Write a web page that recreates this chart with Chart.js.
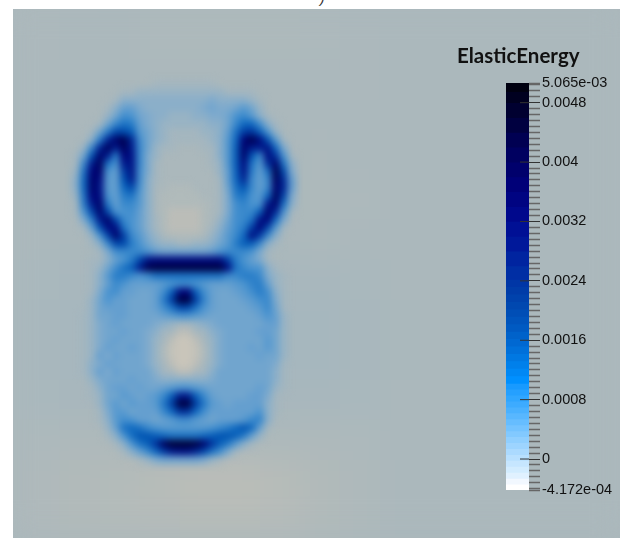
<!DOCTYPE html>
<html>
<head>
<meta charset="utf-8">
<title>ElasticEnergy</title>
<script src="https://cdn.jsdelivr.net/npm/chart.js@4"></script>
<style>
  html, body { margin: 0; padding: 0; background: #fff; overflow: hidden; }
  #panel { position: absolute; left: 13px; top: 9px; width: 607px; height: 529px; background: #abb8bc; overflow: hidden; }
  #farChart { position: absolute; left: -13px; top: -9px; filter: blur(16px); }
  #fieldChart { position: absolute; left: -13px; top: -9px; filter: blur(3.5px); }
  #legendChart { position: absolute; left: 0; top: 0; }
  #clipped { position: absolute; left: 320px; top: -10px; font: italic 14px "Liberation Sans"; color: #333; }
</style>
</head>
<body>
<span id="clipped">)</span>
<div id="panel">
  <canvas id="farChart" width="628" height="538"></canvas>
  <canvas id="fieldChart" width="628" height="538"></canvas>
</div>
<canvas id="legendChart" width="628" height="538"></canvas>
<script>
// all energies below are in units of 1e-4
const fieldCol0 = 9.5;
const fieldRow0 = 10.5;
const fieldRows = [
  [0,0,0,0,0,0,0,0,0,0,1,1,1,1,1,1,1,1,0,0,0,0,0,0,0,0,0,0],
  [0,0,0,0,0,0,1,1,2,2,2,2,2,2,2,2,2,2,2,1,1,1,1,0,0,0,0,0],
  [0,0,0,0,0,1,3,3,3,3,3,3,3,3,3,3,3,4,3,3,3,3,2,1,0,0,0,0],
  [0,0,0,0,1,3,6,6,4,3,3,3,3,3,3,3,4,5,4,4,5,7,5,2,0,0,0,0],
  [0,0,0,0,2,5,9,8,5,4,3,3,2,2,2,3,3,4,4,5,8,10,7,3,1,0,0,0],
  [0,0,0,1,5,10,14,12,6,4,3,2,2,2,2,2,2,3,3,5,10,16,16,9,3,1,0,0],
  [0,0,1,5,12,22,22,18,7,5,3,2,1,1,1,1,2,2,3,6,14,24,26,18,8,2,0,0],
  [0,0,3,12,28,38,42,28,9,5,3,2,1,1,1,1,1,2,3,7,16,36,42,34,20,7,1,0],
  [0,2,10,28,40,30,40,30,10,5,2,1,1,0,0,0,1,1,3,7,18,38,30,30,32,16,4,0],
  [1,5,20,38,30,12,36,32,10,4,2,0,0,0,0,0,0,1,3,7,18,38,20,10,34,26,8,1],
  [1,10,30,40,14,8,30,32,10,4,1,0,0,0,0,0,0,1,2,7,18,34,14,7,26,38,14,3],
  [2,14,36,38,8,6,24,32,9,4,1,0,0,0,0,0,0,0,2,6,17,32,12,6,14,42,22,4],
  [3,16,38,34,7,6,20,30,9,3,1,0,0,0,0,0,0,0,1,6,16,28,10,6,10,40,27,6],
  [3,16,38,32,7,6,16,22,8,3,0,0,-1,-1,-1,0,0,0,1,5,14,20,10,6,10,38,28,6],
  [2,14,36,34,8,6,12,14,7,3,0,-1,-1,-1,-1,-1,0,0,1,4,12,14,8,7,16,40,23,4],
  [1,12,30,38,12,6,10,10,7,3,0,-1,-1,-1,-1,-1,-1,0,1,4,9,11,8,8,30,38,15,3],
  [1,8,22,38,22,8,8,9,6,3,0,-1,-2,-2,-2,-2,-1,0,1,4,9,10,10,18,38,28,8,1],
  [0,4,12,30,38,22,10,8,6,3,1,-1,-2,-2,-2,-2,-1,0,2,5,9,10,14,32,36,16,4,0],
  [0,1,6,20,34,34,14,8,6,3,1,-1,-2,-2,-2,-2,-1,1,3,6,9,12,24,36,22,7,1,0],
  [0,0,2,8,22,38,24,10,7,4,2,0,-1,-1,-1,-1,0,2,4,7,10,16,34,24,10,3,0,0],
  [0,0,1,3,10,22,22,12,8,5,3,2,2,1,1,2,2,3,5,7,12,18,18,10,3,1,0,0],
  [0,0,0,1,4,9,10,10,10,8,6,5,5,5,5,5,5,6,8,10,10,10,8,4,1,0,0,0],
  [0,0,1,1,3,6,8,12,22,32,34,34,34,34,34,34,34,34,34,24,12,8,6,4,1,0,0,0],
  [0,0,1,2,5,9,14,18,30,42,44,44,44,44,44,44,44,44,44,34,14,10,8,8,3,1,0,0],
  [0,0,1,3,7,12,12,10,8,10,14,14,14,14,14,14,14,14,14,10,10,12,12,10,4,2,1,0],
  [0,0,1,3,6,10,8,6,6,6,6,7,8,9,9,8,7,6,6,6,7,8,11,12,6,2,1,0],
  [0,0,1,4,8,9,6,6,5,5,6,9,18,34,36,18,9,6,5,5,6,7,9,12,9,3,1,0],
  [0,0,2,5,8,6,6,5,5,5,6,12,24,44,44,24,11,6,5,5,5,6,7,9,10,4,1,0],
  [0,0,2,5,6,6,6,5,5,5,6,9,14,22,22,14,8,6,5,5,5,5,6,7,10,5,1,0],
  [0,1,2,5,5,6,6,5,5,5,5,6,7,8,8,7,6,5,5,5,5,5,5,6,8,6,2,0],
  [0,1,2,4,5,6,5,5,5,5,4,3,2,1,1,2,3,4,5,5,5,5,5,5,6,6,2,0],
  [0,1,2,4,5,5,6,5,5,4,3,1,0,-2,-2,0,1,3,4,5,5,5,5,6,6,5,2,0],
  [0,1,2,4,5,6,5,5,5,4,2,0,-2,-4,-4,-2,0,2,4,5,5,5,5,5,7,5,2,0],
  [0,1,2,4,6,5,5,6,5,4,2,-1,-3,-4,-4,-3,-1,2,4,5,5,5,6,5,7,5,2,0],
  [0,1,2,6,4,6,5,5,5,4,2,-1,-3,-4,-4,-3,-1,2,4,5,5,5,5,6,5,5,2,0],
  [0,1,3,4,6,5,5,5,5,4,2,0,-2,-4,-4,-2,0,2,4,5,5,5,5,5,5,4,1,0],
  [0,1,3,6,4,6,5,5,5,5,3,1,0,-2,-2,0,1,3,5,5,5,5,5,5,5,3,1,0],
  [0,0,2,4,5,5,5,6,5,5,4,3,3,3,3,3,3,4,5,5,5,5,5,5,5,3,1,0],
  [0,0,1,3,5,6,6,5,6,5,5,6,7,8,8,7,6,5,5,5,5,5,5,6,5,2,1,0],
  [0,0,1,2,5,5,7,6,5,6,7,10,18,30,30,18,10,6,5,5,5,5,6,6,4,1,0,0],
  [0,0,0,2,5,7,5,7,6,6,7,13,24,44,44,24,13,7,6,5,6,6,6,6,3,1,0,0],
  [0,0,0,1,4,7,7,5,6,6,6,10,16,26,26,16,9,6,6,6,6,6,6,8,3,1,0,0],
  [0,0,0,1,3,7,9,8,6,6,5,6,7,9,9,7,6,5,6,6,6,7,10,11,3,0,0,0],
  [0,0,0,0,2,6,14,16,14,10,8,7,7,7,7,7,7,8,10,12,16,20,16,6,1,0,0,0],
  [0,0,0,0,1,3,8,15,20,20,18,16,14,14,14,14,16,18,20,20,18,13,6,2,0,0,0,0],
  [0,0,0,0,0,1,3,8,14,18,26,40,46,46,46,44,38,26,18,13,7,3,1,0,0,0,0,0],
  [0,0,0,0,0,0,1,3,6,10,16,24,30,32,32,28,22,14,9,4,1,0,0,0,0,0,0,0],
  [0,0,0,0,0,0,0,0,1,2,4,5,5,5,5,5,4,2,1,0,0,0,0,0,0,0,0,0]
];
// coarse far field, one cell every 5 mesh units
const farStep = 5;
const farRows = [
  [0,-0.2,-0.1,0,-0.2,-0.2,-0.2,-0.2,-0.1,0,0,0,0,0,0,0,0],
  [0,-0.1,0,0,-0.2,-0.3,-0.3,-0.3,-0.2,-0.1,0,0,0,0,0,0,0],
  [0,0,0,0,0,0,0,0,0,-0.1,0,0,0,0,0,0,0],
  [0,0,0,0,0,0,0,0,0,0,0,0,0,0,0,0,0],
  [0,0,0,0,0,0,0,0,-0.2,0,0,0,0,0,0,0,0],
  [0,0,0,0,0,0,0,0,-0.3,-0.2,0,0,0,0,0,0,0],
  [0,0,0,0,0,0,0,0,-0.2,0,0,0,0,0,0,0,0],
  [0,0.2,0.3,0.3,0.3,0.3,0.3,0.3,0.3,0.2,0,0,0,0,0,0,0],
  [0,0.3,0.4,0.5,0.5,0.5,0.5,0.5,0.5,0.3,0.1,0,0,0,0,0,0],
  [0,0.3,0.4,0.5,0.5,0.5,0.5,0.5,0.5,0.3,0.1,0,0,0,0,0,0],
  [0,0.2,0.3,0.3,0.3,0.3,0.3,0.3,0.3,0.2,0,0,0,0,0,0,0],
  [0,-0.2,-0.4,-0.4,-0.3,-0.2,-0.2,-0.3,-0.4,-0.2,0,0,0,0,0,0,0],
  [0,-0.5,-0.8,-1,-1.5,-2,-2,-1.5,-0.8,-0.4,0,0,0,0,0,0,0],
  [0,-0.5,-0.8,-1,-1.2,-1.4,-1.4,-1.2,-0.8,-0.4,0,0,0,0,0,0,0],
  [0,-0.3,-0.5,-0.7,-0.8,-0.8,-0.8,-0.7,-0.5,-0.2,0,0,0,0,0,0,0]
];
const fieldStops = [-4, -2, 0, 2, 4, 8, 12, 16, 20, 24, 30, 36, 42, 50];
const fieldColors = [
  [201,197,186],[187,189,184],[171,184,188],[152,179,196],[126,170,205],[75,148,208],[40,125,200],
  [15,105,192],[0,84,178],[0,62,164],[0,28,140],[0,4,120],[0,0,80],[0,0,32]
];

const scaleMin = -4.172;
const scaleMax = 50.65;
const bandEdges = [
  -4.172,-3.4,-2.6,-1.8,-1,-0.2,0.6,1.4,2.2,3,3.8,4.6,5.4,6.2,7,7.8,8.6,9.4,10.2,
  11.2,12.2,13.2,14.2,15.2,16.2,17.2,18.2,19.2,20.2,21.2,22.2,23.2,24.2,
  26,28,30,32,34,36,38,40,42,44,46,48,49.5
];
const bandColors = [
  '#ffffff','#f2f8ff','#e0f1ff','#d2ecff','#c6e6ff','#b8e0ff','#abdaff','#9dd4ff','#90cfff','#82c9ff',
  '#74c3ff','#66bdff','#58b7ff','#4ab1ff','#3dabff','#30a6ff','#25a0ff','#189aff','#0090ff',
  '#0088f5','#0080eb','#0078e2','#0070da','#0068d2','#0062ca','#005ac2','#0054bc','#004eb6','#0048b0',
  '#0042ac','#003ca8','#0036a6','#002ea4',
  '#0024a0','#00189a','#001095','#00088c','#000482','#000078','#00006c','#000060','#000052','#000040',
  '#000030','#000020','#000010'
];
const majorTicks = [0, 8, 16, 24, 32, 40, 48];
const majorLabels = ['0', '0.0008', '0.0016', '0.0024', '0.0032', '0.004', '0.0048'];
const minorTicks = [
  -4, -3.2, -2.4, -1.6, -0.8, 0.8, 1.6, 2.4, 3.2, 4, 4.8, 5.6, 6.4, 7.2,
  8.8, 9.6, 10.4, 11.2, 12, 12.8, 13.6, 14.4, 15.2, 16.8, 17.6, 18.4, 19.2, 20, 20.8, 21.6, 22.4, 23.2,
  24.8, 25.6, 26.4, 27.2, 28, 28.8, 29.6, 30.4, 31.2, 32.8, 33.6, 34.4, 35.2, 36, 36.8, 37.6, 38.4, 39.2,
  40.8, 41.6, 42.4, 43.2, 44, 44.8, 45.6, 46.4, 47.2, 48.8, 49.6, 50.4
];

function fieldColor(v, fade) {
  let i = 0;
  while (i < fieldStops.length - 2 && v > fieldStops[i + 1]) i++;
  const t = Math.min(1, Math.max(0, (v - fieldStops[i]) / (fieldStops[i + 1] - fieldStops[i])));
  const a = fieldColors[i], b = fieldColors[i + 1];
  // near-zero cells stay see-through so the far field shows under them
  const alpha = fade ? Math.min(1, Math.abs(v) / 1.5) : 1;
  return `rgba(${a[0] + (b[0] - a[0]) * t},${a[1] + (b[1] - a[1]) * t},${a[2] + (b[2] - a[2]) * t},${alpha})`;
}

const fineCells = [];
fieldRows.forEach((row, j) => row.forEach((v, i) => fineCells.push({ x: fieldCol0 + i, y: fieldRow0 + j, v })));
const farCells = [];
farRows.forEach((row, j) => row.forEach((v, i) => farCells.push({ x: i * farStep, y: j * farStep, v })));

function cellRadius(units) {
  return ctx => {
    const xs = ctx.chart.scales.x;
    return (xs.getPixelForValue(units) - xs.getPixelForValue(0)) / Math.SQRT2 + 0.4;
  };
}

function meshOptions() {
  return {
    responsive: false,
    animation: false,
    clip: false,
    layout: { padding: 0 },
    plugins: { legend: { display: false }, tooltip: { enabled: false } },
    scales: {
      x: { type: 'linear', display: false, min: 0, max: 78.5 },
      y: { type: 'linear', display: false, min: 0, max: 67.25, reverse: true }
    }
  };
}

new Chart(document.getElementById('farChart').getContext('2d'), {
  type: 'scatter',
  data: {
    datasets: [{ data: farCells, pointStyle: 'rect', pointRadius: cellRadius(farStep), pointBorderWidth: 0,
      backgroundColor: ctx => fieldColor(ctx.raw.v, false) }]
  },
  options: meshOptions()
});

new Chart(document.getElementById('fieldChart').getContext('2d'), {
  type: 'scatter',
  data: {
    datasets: [{ data: fineCells, pointStyle: 'rect', pointRadius: cellRadius(1), pointBorderWidth: 0,
      backgroundColor: ctx => fieldColor(ctx.raw.v, true) }]
  },
  options: meshOptions()
});

// colour bar
const axisTicks = [scaleMin, ...minorTicks, ...majorTicks, scaleMax].sort((a, b) => a - b);

function tickLabel(value) {
  if (value === scaleMin) return '-4.172e-04';
  if (value === scaleMax) return '5.065e-03';
  const k = majorTicks.indexOf(value);
  return k >= 0 ? majorLabels[k] : '';
}

new Chart(document.getElementById('legendChart').getContext('2d'), {
  type: 'bar',
  data: {
    datasets: [
      {
        type: 'scatter',
        order: 0,
        data: majorTicks.map(v => ({ x: 18.5, y: v })),
        pointStyle: 'line',
        pointRadius: 4.5,
        pointBorderWidth: 1,
        pointBorderColor: '#333'
      },
      {
        order: 1,
        data: bandEdges.map(lo => ({ x: 11.5, y: [lo, scaleMax] })),
        backgroundColor: bandColors,
        barThickness: 23,
        borderWidth: 0
      }
    ]
  },
  options: {
    responsive: false,
    animation: false,
    layout: { padding: { left: 457, top: 44, right: 0, bottom: 48 } },
    plugins: {
      legend: { display: false },
      tooltip: { enabled: false },
      title: {
        display: true,
        text: 'ElasticEnergy',
        align: 'start',
        color: '#111',
        font: { family: 'Lato', size: 20.5, weight: '700', lineHeight: 1.2 },
        padding: { top: 0, bottom: 14.4 }
      }
    },
    scales: {
      x: { type: 'linear', display: false, min: 0, max: 23, offset: false },
      y: {
        type: 'linear',
        position: 'right',
        min: scaleMin,
        max: scaleMax,
        afterFit: s => { s.width = 99; },
        afterBuildTicks: s => { s.ticks = axisTicks.map(value => ({ value })); },
        border: { display: false },
        grid: {
          drawOnChartArea: false,
          tickLength: 11,
          tickWidth: ctx => majorTicks.includes(ctx.tick.value) ? 1 : 1.5,
          tickColor: ctx => majorTicks.includes(ctx.tick.value) ? '#333' : '#666'
        },
        ticks: {
          autoSkip: false,
          padding: 2,
          color: '#111',
          font: { family: '"Liberation Sans"', size: 14.5 },
          callback: value => tickLabel(value)
        }
      },
      spacer: {
        type: 'linear',
        position: 'left',
        afterFit: s => { s.width = 49; },
        border: { display: false },
        grid: { display: false },
        ticks: { display: false }
      }
    }
  }
});
</script>
</body>
</html>
